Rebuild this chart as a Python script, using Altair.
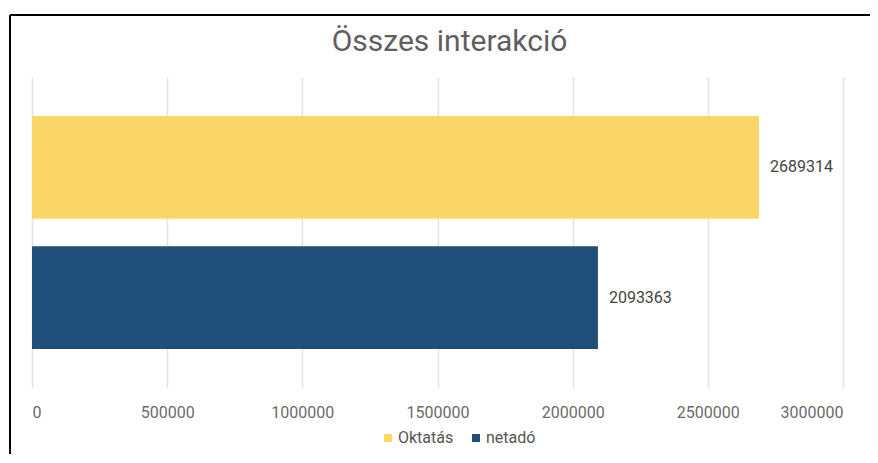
import altair as alt
import pandas as pd

categories = ["Oktatás", "netadó"]
values = [2689314, 2093363]
colors = ["#FCD666", "#1F4E78"]
tick_values = [0, 500000, 1000000, 1500000, 2000000, 2500000, 3000000]
title_text = "Összes interakció"

df = pd.DataFrame({"cat": categories, "value": values})

FONT = "Roboto"

base = alt.Chart(df)

bars = base.mark_bar().encode(
    y=alt.Y("cat:N", sort=categories, axis=None,
            scale=alt.Scale(paddingInner=0.21, paddingOuter=0.3)),
    x=alt.X("value:Q",
            scale=alt.Scale(domain=[0, 3000000], nice=False),
            axis=alt.Axis(values=tick_values, format="d", grid=True, domain=False,
                          ticks=False, labelFontSize=16, labelColor="#6b6b6b",
                          labelFont=FONT, labelPadding=16, title=None,
                          gridColor="#e3e3e3", gridWidth=1.5)),
    color=alt.Color("cat:N", sort=categories,
                    scale=alt.Scale(domain=categories, range=colors),
                    legend=alt.Legend(orient="none", legendX=348, legendY=353,
                                      direction="horizontal", title=None,
                                      symbolType="square", symbolSize=64,
                                      symbolStrokeWidth=0,
                                      labelFont=FONT, labelFontSize=16,
                                      labelColor="#555555", columnPadding=14,
                                      labelOffset=2)),
)

labels = base.mark_text(align="left", baseline="middle", dx=11, fontSize=16,
                        font=FONT, color="#444444").encode(
    y=alt.Y("cat:N", sort=categories),
    x=alt.X("value:Q"),
    text=alt.Text("value:Q", format="d"),
)

frame_left = alt.Chart(df).mark_rule(color="black", strokeWidth=2).encode(
    x=alt.value(-22), y=alt.value(-62), y2=alt.value(383))
frame_top = alt.Chart(df).mark_rule(color="black", strokeWidth=2).encode(
    x=alt.value(-22), x2=alt.value(838), y=alt.value(-62))

chart = alt.layer(frame_left, frame_top, bars, labels).properties(
    width=811, height=311,
    background="white",
    autosize=alt.AutoSizeParams(type="none"),
    padding={"left": 24, "top": 69, "right": 27, "bottom": 66},
    title=alt.TitleParams(title_text, font=FONT, fontSize=30, fontWeight="normal",
                          color="#5f5f5f", anchor="middle", dx=12, offset=-43),
).configure_view(stroke=None)

chart.save("out.html", embed_options={"renderer": "svg", "actions": False})
